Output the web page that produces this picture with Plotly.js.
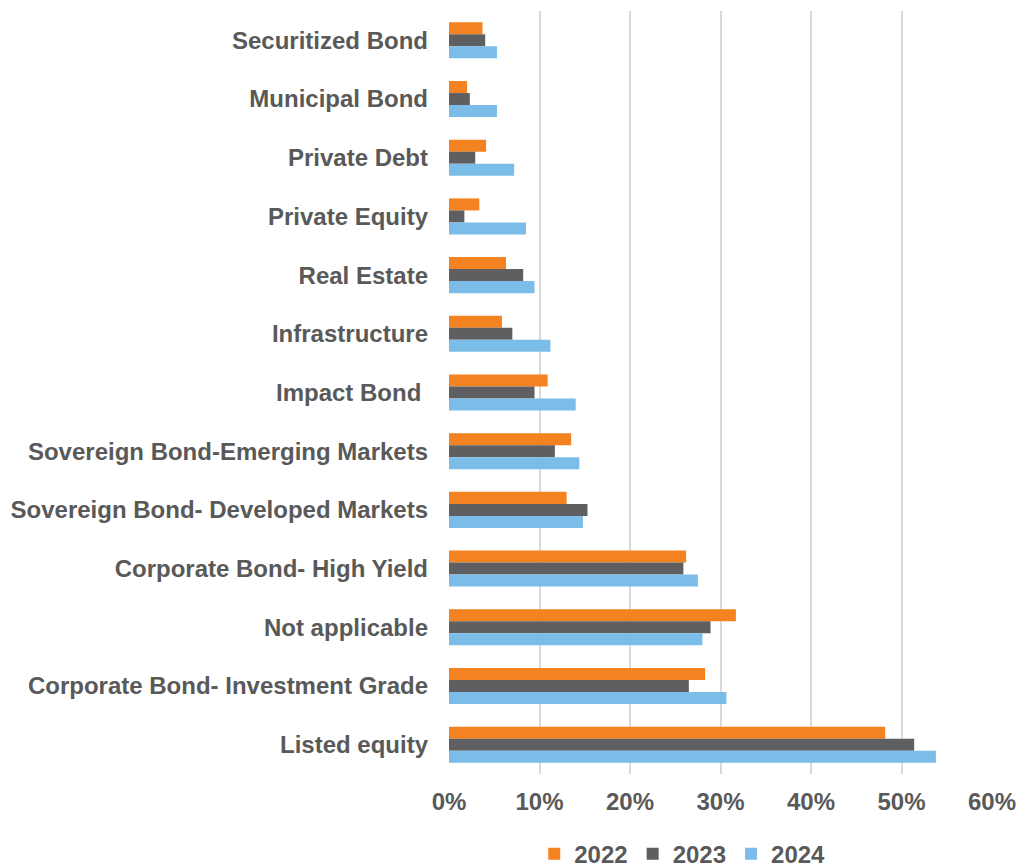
<!DOCTYPE html>
<html>
<head>
<meta charset="utf-8">
<script src="https://cdn.plot.ly/plotly-3.0.1.min.js"></script>
<style>
  html, body { margin: 0; padding: 0; background: #fff; }
  #chart { width: 1019px; height: 867px; }
</style>
</head>
<body>
<div id="chart"></div>
<script>
// categories, top to bottom
const categories = [
  'Securitized Bond',
  'Municipal Bond',
  'Private Debt',
  'Private Equity',
  'Real Estate',
  'Infrastructure',
  'Impact Bond\u00a0',
  'Sovereign Bond-Emerging Markets',
  'Sovereign Bond- Developed Markets',
  'Corporate Bond- High Yield',
  'Not applicable',
  'Corporate Bond- Investment Grade',
  'Listed equity'
];

// shares in percent
const y2022 = [3.7, 2.0, 4.1, 3.35, 6.3, 5.85, 10.9, 13.5, 13.0, 26.2, 31.7, 28.3, 48.2];
const y2023 = [4.0, 2.3, 2.9, 1.7, 8.2, 7.0, 9.45, 11.7, 15.3, 25.9, 28.9, 26.5, 51.4];
const y2024 = [5.3, 5.3, 7.2, 8.5, 9.45, 11.2, 14.0, 14.4, 14.8, 27.5, 28.0, 30.65, 53.8];

const seriesNames = ['2022', '2023', '2024'];
const seriesColors = ['#F58220', '#5F5F61', '#7BBDE8'];
const seriesValues = [y2022, y2023, y2024];

const traces = seriesValues.map((vals, i) => ({
  type: 'bar',
  orientation: 'h',
  name: seriesNames[i],
  y: categories,
  x: vals.map(v => v / 100),
  marker: { color: seriesColors[i], line: { width: 0 } },
  hoverinfo: 'x+y+name'
}));

const textFont = { family: '"Liberation Sans", Arial, sans-serif', size: 24, color: '#595959', weight: 'bold' };

const layout = {
  width: 1019,
  height: 867,
  paper_bgcolor: '#fff',
  plot_bgcolor: '#fff',
  margin: { l: 449, r: 27, t: 11, b: 93, autoexpand: false },
  barmode: 'group',
  bargap: 0.386,
  bargroupgap: 0,
  font: textFont,
  xaxis: {
    range: [0, 0.6],
    dtick: 0.1,
    tickformat: '.0%',
    showgrid: true,
    gridcolor: '#D9D9D9',
    gridwidth: 2,
    zeroline: false,
    showline: false,
    ticks: '',
    ticklabelstandoff: 11,
    tickfont: textFont,
    fixedrange: true
  },
  yaxis: {
    type: 'category',
    autorange: 'reversed',
    showgrid: false,
    zeroline: false,
    showline: false,
    ticks: '',
    ticklabelstandoff: 20,
    tickfont: textFont,
    fixedrange: true
  },
  showlegend: true,
  legend: {
    orientation: 'h',
    x: 0.157,
    xanchor: 'left',
    y: -0.0755,
    yanchor: 'top',
    font: textFont,
    itemwidth: 30,
    traceorder: 'normal'
  }
};

Plotly.newPlot('chart', traces, layout, { displayModeBar: false });
</script>
</body>
</html>
